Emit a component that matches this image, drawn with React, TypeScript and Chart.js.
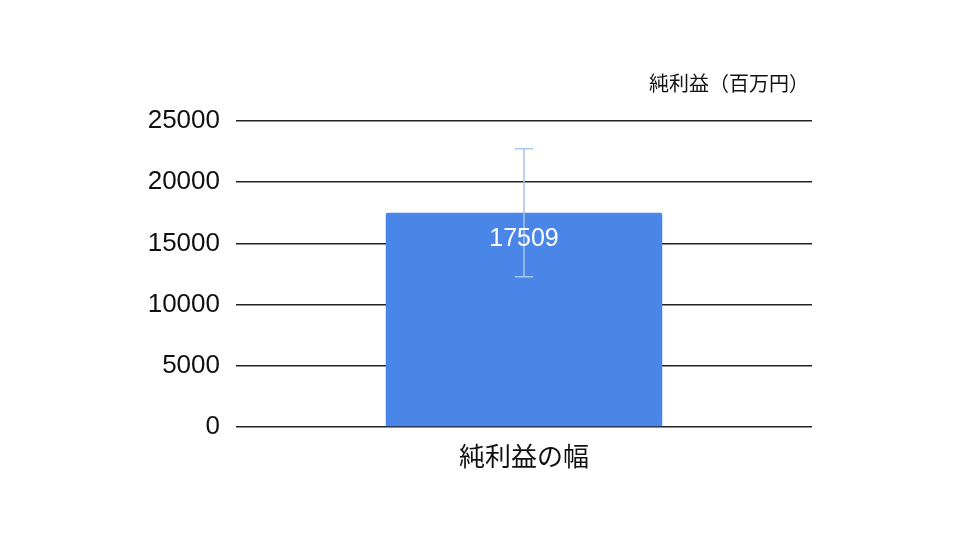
import React, { useRef, useEffect } from 'react';
import { Chart, ChartConfiguration, Plugin } from 'chart.js/auto';

const categories = ['純利益の幅'];
const netIncome = [17509];
const errorLow = [12280];
const errorHigh = [22730];
const yMax = 25000;
const yStep = 5000;
const yTitle = '純利益（百万円）';

const FONT = "'Liberation Sans', 'Noto Sans CJK JP', sans-serif";
const CJK_FONT = "'Noto Sans CJK JP', 'Liberation Sans', sans-serif";

// error bars + value label + top-right axis title
const overlayPlugin: Plugin<'bar'> = {
  id: 'overlay',
  afterDatasetsDraw(chart) {
    const { ctx, scales, chartArea } = chart;
    const yScale = scales.y;
    const meta = chart.getDatasetMeta(0);
    ctx.save();
    meta.data.forEach((bar, i) => {
      const x = bar.x;
      const top = yScale.getPixelForValue(errorHigh[i]);
      const bottom = yScale.getPixelForValue(errorLow[i]);
      ctx.strokeStyle = '#a9c4ec';
      ctx.lineWidth = 1.5;
      ctx.beginPath();
      ctx.moveTo(x, top);
      ctx.lineTo(x, bottom);
      ctx.moveTo(x - 9, top);
      ctx.lineTo(x + 9, top);
      ctx.moveTo(x - 9, bottom);
      ctx.lineTo(x + 9, bottom);
      ctx.stroke();

      ctx.fillStyle = '#ffffff';
      ctx.font = `25px ${FONT}`;
      ctx.textAlign = 'center';
      ctx.textBaseline = 'middle';
      ctx.fillText(String(netIncome[i]), x, bar.y + 26);
    });

    ctx.fillStyle = '#111111';
    ctx.font = `20px ${CJK_FONT}`;
    ctx.textAlign = 'right';
    ctx.textBaseline = 'middle';
    ctx.fillText(yTitle, chartArea.right - 3, 83);
    ctx.restore();
  },
};

const App: React.FC = () => {
  const chartRef = useRef<HTMLCanvasElement | null>(null);
  const chartInstance = useRef<Chart | null>(null);

  useEffect(() => {
    if (chartInstance.current) {
      chartInstance.current.destroy();
      chartInstance.current = null;
    }

    const config: ChartConfiguration<'bar'> = {
      type: 'bar',
      data: {
        labels: categories,
        datasets: [
          {
            label: yTitle,
            data: netIncome,
            backgroundColor: '#4a86e8',
            borderRadius: 2,
            borderSkipped: 'bottom',
            categoryPercentage: 1,
            barPercentage: 0.48,
          },
        ],
      },
      options: {
        animation: false,
        responsive: false,
        maintainAspectRatio: false,
        layout: { padding: { top: 121, right: 148, left: 0, bottom: 0 } },
        plugins: {
          legend: { display: false },
          tooltip: { enabled: false },
        },
        scales: {
          x: {
            grid: { display: false, drawTicks: false },
            border: { display: false },
            ticks: {
              color: '#111111',
              font: { family: CJK_FONT, size: 26 },
              padding: 14,
            },
            afterFit: (scale) => {
              scale.height = 113;
            },
          },
          y: {
            min: 0,
            max: yMax,
            grid: { color: '#222222', lineWidth: 1.5, drawTicks: false },
            border: { display: false },
            ticks: {
              stepSize: yStep,
              color: '#111111',
              font: { family: FONT, size: 26 },
              padding: 16,
              callback: (value) => String(value),
            },
            afterFit: (scale) => {
              scale.width = 236;
            },
          },
        },
      },
      plugins: [overlayPlugin],
    };

    if (chartRef.current) {
      const ctx = chartRef.current.getContext('2d');
      if (ctx) {
        chartInstance.current = new Chart(ctx, config);
      }
    }

    return () => {
      if (chartInstance.current) {
        chartInstance.current.destroy();
        chartInstance.current = null;
      }
    };
  }, []);

  return (
    <div style={{ position: 'fixed', left: 0, top: 0, width: 960, height: 540, background: '#ffffff' }}>
      <canvas ref={chartRef} width={960} height={540} style={{ width: 960, height: 540 }} />
    </div>
  );
};

export default App;
